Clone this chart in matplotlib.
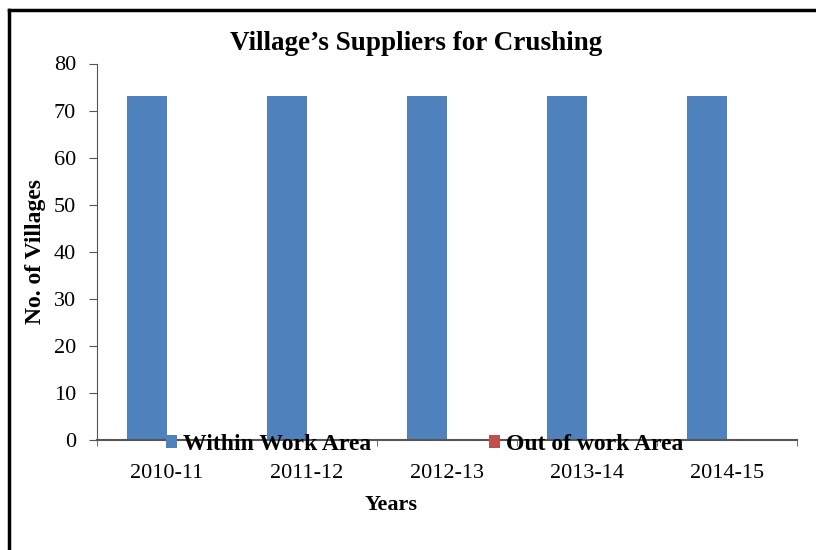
import numpy as np
import matplotlib.pyplot as plt
from matplotlib.lines import Line2D

years = ['2010-11', '2011-12', '2012-13', '2013-14', '2014-15']
within_area = [73, 73, 73, 73, 73]
out_of_area = [0, 0, 0, 0, 0]

plt.rcParams['font.family'] = 'Liberation Serif'

fig = plt.figure(figsize=(8.16, 5.5), dpi=100)
ax = fig.add_axes([97/816, 1-440/550, 700/816, (440-63.5)/550])

x = np.arange(len(years))
w = 2/7
ax.bar(x - w/2, within_area, w, color='#4F81BD', label='Within Work Area')
ax.bar(x + w/2, out_of_area, w, color='#C0504D', label='Out of work Area')

ax.set_xlim(-0.5, len(years) - 0.5)
ax.set_ylim(0, 80)
ax.set_yticks(range(0, 81, 10))
ax.set_xticks(x)
ax.set_xticklabels(years)
ax.set_xticks(np.arange(-0.5, len(years), 1), minor=True)
ax.tick_params(axis='x', which='major', length=0, pad=17, labelsize=16)
ax.tick_params(axis='x', which='minor', length=4, color='#555555')
ax.tick_params(axis='y', length=6, color='#555555', labelsize=16, pad=9)

for s in ['top', 'right']:
    ax.spines[s].set_visible(False)
ax.spines['left'].set_color('#555555')
ax.spines['bottom'].set_color('#555555')
ax.spines['bottom'].set_linewidth(1.5)

ax.set_ylabel('No. of Villages', fontsize=17, fontweight='bold', labelpad=6)
fig.text(391/816, 1-505/550, 'Years', fontsize=16, fontweight='bold', ha='center', va='center')
fig.text(416/816, 1-43/550, 'Village\u2019s Suppliers for Crushing', fontsize=19.5,
         fontweight='bold', ha='center', va='center')

leg = fig.legend(loc='center left', bbox_to_anchor=(166/816, 1-444/550), ncol=2,
                 frameon=False, borderpad=0, borderaxespad=0,
                 handlelength=0.47, handleheight=0.47, handletextpad=0.25,
                 columnspacing=5.0, prop={'weight': 'bold', 'size': 17})

# page frame around the chart
fig.add_artist(Line2D([9/816, 9/816], [0, 1-10/550], color='black', lw=2.5))
fig.add_artist(Line2D([9/816, 1], [1-10/550, 1-10/550], color='black', lw=2.5))

fig.savefig('out.png', dpi=100)
